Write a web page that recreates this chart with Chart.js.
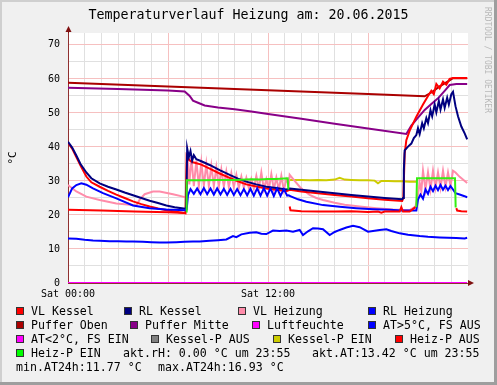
<!DOCTYPE html>
<html>
<head>
<meta charset="utf-8">
<script src="https://cdn.jsdelivr.net/npm/chart.js@4.4.0/dist/chart.umd.min.js"></script>
<style>
body{margin:0;background:#f0f0f0;}
canvas{display:block;}
</style>
</head>
<body>
<canvas id="myChart" width="497" height="385"></canvas>
<script>
// time in hours since Sat 00:00
const hourTicks = [0,1,2,3,4,5,6,7,8,9,10,11,12,13,14,15,16,17,18,19,20,21,22,23,24];
const hourLabels = {0:'Sat 00:00', 12:'Sat 12:00'};
const tempTicks = [0,5,10,15,20,25,30,35,40,45,50,55,60,65,70];

const vlKesselT = [0,0.25,0.5,0.75,1.1,1.4,1.9,2.4,2.9,3.4,3.9,4.4,4.9,5.4,5.9,6.4,7.05,
  7.12,7.3,7.5,8,8.5,9.1,9.7,10.2,10.7,11.3,11.9,12.5,13.1,13.3,
  14,15,16,17,18,19,20.05,
  20.12,20.2,20.3,20.5,20.9,21.3,21.6,21.8,21.95,22.1,22.3,22.5,22.7,22.9,23.1,23.95];
const vlKesselV = [41.3,39.5,37.0,34.5,31.3,29.6,28.3,27.1,26.0,25.0,24.0,23.2,22.5,21.9,21.4,21.0,20.5,
  37.5,36.0,35.5,34.8,33.6,32.2,30.9,29.9,29.0,28.4,27.8,27.4,27.0,27.4,
  26.9,26.4,25.9,25.4,24.9,24.5,24.1,
  25.0,38.0,42.0,44.8,48.9,52.5,55.0,56.5,55.5,58.5,57.2,59.2,58.3,60.0,60.3,60.3];

const rlKesselT = [0,0.25,0.5,0.75,1.1,1.4,1.9,2.4,2.9,3.4,3.9,4.4,4.9,5.4,5.9,6.4,7.05,
  7.1,7.15,7.25,7.35,7.45,7.55,7.7,8.0,8.5,9.1,9.7,10.2,10.7,11.3,11.9,12.5,13.1,13.3,
  14,15,16,17,18,19,20.05,
  20.1,20.15,20.2,20.4,20.6,20.75,20.9,21.0,21.1,21.25,21.35,21.5,21.6,21.75,21.85,22.0,22.1,22.25,22.35,22.5,22.6,22.75,22.85,23.0,23.1,23.25,23.4,23.6,23.8,23.95];
const rlKesselV = [41.5,39.8,37.5,35.0,32.5,30.8,29.3,28.3,27.5,26.6,25.8,25.0,24.2,23.5,22.8,22.3,21.8,
  22.5,39.6,37.0,38.8,36.0,37.6,36.4,35.8,34.7,33.2,31.8,30.7,29.8,29.0,28.3,27.9,27.5,27.8,
  27.4,26.9,26.4,25.9,25.4,25.0,24.6,
  25.0,33.0,39.0,40.1,41.0,42.6,43.5,45.5,43.8,47.0,45.5,48.5,47.0,50.8,49.0,52.5,50.2,53.5,51.0,54.0,51.5,54.5,52.5,55.5,56.2,52.0,49.0,46.0,44.0,42.2];

const vlHeizT = [0,0.5,1.1,1.9,2.9,3.9,4.1,4.3,4.6,5.1,5.5,6.3,6.9,7.08,
  7.12,7.18,7.28,7.4,7.55,7.7,7.85,8.0,8.15,8.3,8.45,8.6,8.75,8.9,9.05,9.2,9.35,9.5,9.65,9.8,9.95,10.1,10.25,10.4,10.55,10.7,10.85,11.0,11.15,11.3,11.45,11.6,11.75,11.9,12.05,12.2,12.35,12.5,12.65,12.8,12.95,13.1,13.25,
  13.3,13.6,13.9,14.2,14.5,14.9,15.3,16.0,16.6,17.5,18.5,19.5,20.5,20.85,
  21.0,21.1,21.2,21.3,21.45,21.6,21.75,21.9,22.05,22.2,22.35,22.5,22.65,22.8,22.95,23.1,23.25,23.5,23.75,23.95];
const vlHeizV = [28.8,26.9,25.4,24.4,23.4,22.9,22.8,24.5,26.1,26.9,26.9,26.1,25.4,25.2,
  25.0,36.5,29.0,37.0,28.5,36.0,28.5,35.5,28.5,35.0,28.5,34.5,28.5,34.0,28.3,33.3,28.3,32.8,28.2,32.3,28.2,31.8,28.0,31.3,28.0,30.9,27.9,30.6,27.8,31.5,27.7,32.5,27.6,30.5,27.5,32.0,27.5,31.0,27.4,31.5,27.3,30.5,29.0,
  31.8,30.0,28.3,27.0,25.9,25.0,24.4,23.6,23.0,22.5,22.0,21.6,21.4,22.5,
  26.0,29.5,27.0,33.0,27.5,32.5,27.5,33.0,28.0,32.5,28.0,33.0,28.2,32.5,28.5,33.0,32.5,31.2,30.2,29.4];

const rlHeizT = [0,0.25,0.5,0.8,1.1,1.5,2.1,2.9,3.9,4.9,5.9,7.05,
  7.12,7.2,7.35,7.55,7.75,7.95,8.15,8.35,8.55,8.75,8.95,9.15,9.35,9.55,9.75,9.95,10.15,10.35,10.55,10.75,10.95,11.15,11.35,11.55,11.75,11.95,12.15,12.35,12.55,12.75,12.95,13.15,13.25,
  13.3,13.8,14.3,15.3,16.3,17.3,18.3,19.3,20.0,20.85,
  20.9,21.0,21.15,21.3,21.45,21.6,21.75,21.9,22.05,22.2,22.35,22.5,22.65,22.8,22.95,23.1,23.25,23.5,23.75,23.95];
const rlHeizV = [25.2,27.8,28.8,29.3,28.9,27.8,26.4,24.9,22.8,22.0,21.6,21.4,
  21.6,25.8,27.6,26.2,27.8,26.1,27.9,26.1,27.8,26.0,27.8,26.0,27.7,25.9,27.7,25.9,27.6,25.8,27.6,25.8,27.7,25.7,27.8,25.7,27.9,25.7,27.8,25.6,27.8,25.6,27.6,25.7,25.8,
  25.6,24.6,23.9,22.9,22.4,22.0,21.7,21.5,21.3,21.3,
  21.3,24.5,26.0,24.8,27.5,26.2,28.3,27.0,28.6,27.3,28.8,27.4,28.6,27.3,28.5,27.5,26.4,26.0,25.6,25.2];

const pufferObenT = [0,6,12,18,21.4,21.8,22.3,22.8,23.1,23.95];
const pufferObenV = [58.9,57.8,56.7,55.6,54.9,56.0,57.8,59.3,60.2,60.2];

const pufferMitteT = [0,3,6,7.0,7.3,7.5,7.8,8.2,9,10,11,12,14,16,18,20.3,20.6,21.0,21.4,21.8,22.2,22.6,22.9,23.3,23.95];
const pufferMitteV = [57.4,57.0,56.6,56.3,55.0,53.6,53.0,52.2,51.6,51.1,50.4,49.7,48.3,46.8,45.4,43.8,46.3,48.6,50.9,52.6,54.3,56.5,58.2,58.5,58.5];

const luftT = [0,23.95];
const luftV = [0,0];

const atT = [0,0.5,1,1.5,1.9,2.5,3,3.5,3.9,4.5,5,5.5,5.9,6.5,7,7.5,7.9,8.5,9,9.5,9.9,10.1,10.4,10.9,11.3,11.6,11.9,12.3,12.7,13.1,13.5,13.9,14.1,14.4,14.7,15,15.3,15.7,16,16.3,16.7,17.1,17.5,18,18.3,18.7,19.1,19.4,19.9,20.4,21.1,21.6,22.3,22.8,23.3,23.8,23.95];
const atV = [13.1,13.0,12.7,12.5,12.4,12.3,12.3,12.2,12.2,12.1,12.0,11.9,11.9,12.0,12.1,12.2,12.2,12.4,12.6,12.8,13.8,13.5,14.3,14.8,14.9,14.5,14.4,15.4,15.3,15.4,15.1,15.6,14.1,15.2,16.1,16.0,15.8,14.1,15.0,15.6,16.3,16.8,16.4,15.1,15.3,15.6,15.8,15.3,14.6,14.2,13.8,13.6,13.4,13.3,13.2,13.1,13.3];

const kesselPEinT = [13.2,14,14.5,15,15.5,16,16.3,16.6,17,17.5,18,18.4,18.6,18.8,19.2,19.6,20,20.5,20.95];
const kesselPEinV = [30.3,30.3,30.2,30.3,30.2,30.4,30.9,30.4,30.3,30.2,30.2,30.1,29.3,30.0,30.0,29.9,29.9,29.8,29.8];

const heizPEinT = [7.08,7.12,8,9,10,11,11.5,12,12.5,13.18,13.22,13.26,20.9,20.94,21.5,22.5,23.22,23.26];
const heizPEinV = [21.0,30.2,30.2,30.3,30.3,30.5,30.4,30.6,30.6,30.8,27.5,null,22.3,30.8,30.8,30.8,30.8,22.2];

const heizPAusT = [0,2,4,6,7.08,10,13.3,13.35,14,15,16,17,18,18.6,18.8,19,19.9,20.0,20.1,20.5,20.85,22,23.3,23.35,23.6,23.95];
const heizPAusV = [21.5,21.3,21.0,20.8,20.6,null,22.5,21.4,21.1,21.0,21.0,21.1,20.9,21.0,20.7,21.0,21.0,22.3,21.0,21.0,22.3,null,22.0,21.3,21.1,21.0];

// legend: text, box colour (null = no box), text x, row
const legendItems = [
  ['VL Kessel','#ff0000',31,0], ['RL Kessel','#000080',139,0], ['VL Heizung','#ff8caa',253,0], ['RL Heizung','#0000ff',383,0],
  ['Puffer Oben','#aa0000',31,1], ['Puffer Mitte','#880088',145,1], ['Luftfeuchte','#ff00ff',267,1], ['AT>5°C, FS AUS','#0000ff',383,1],
  ['AT<2°C, FS EIN','#ff00ff',31,2], ['Kessel-P AUS','#808080',166,2], ['Kessel-P EIN','#cccc00',288,2], ['Heiz-P AUS','#ff0000',410,2],
  ['Heiz-P EIN','#00ff00',31,3], ['akt.rH: 0.00 °C um 23:55',null,123,3], ['akt.AT:13.42 °C um 23:55',null,312,3],
  ['min.AT24h:11.77 °C',null,16,4], ['max.AT24h:16.93 °C',null,158,4]
];
const legendRowY = [311,325,339,353,367];

const mono = '"DejaVu Sans Mono", monospace';

function series(t, v){
  return t.map(function(x, i){ return {x: x, y: v[i]}; });
}

function line(label, t, v, color, order){
  return {
    label: label,
    data: series(t, v),
    borderColor: color,
    backgroundColor: color,
    borderWidth: 2,
    pointRadius: 0,
    tension: 0,
    fill: false,
    spanGaps: false,
    order: order
  };
}

const rrdLook = {
  id: 'rrdLook',
  beforeDraw(chart){
    const ctx = chart.ctx;
    const a = chart.chartArea;
    ctx.save();
    ctx.fillStyle = '#f0f0f0';
    ctx.fillRect(0, 0, 497, 385);
    ctx.fillStyle = '#cfcfcf';
    ctx.fillRect(0, 0, 497, 2);
    ctx.fillRect(0, 0, 2, 385);
    ctx.fillStyle = '#9e9e9e';
    ctx.fillRect(0, 382, 497, 3);
    ctx.fillRect(494, 0, 3, 385);
    ctx.fillStyle = '#ffffff';
    ctx.fillRect(a.left, a.top, a.right - a.left, a.bottom - a.top);
    ctx.restore();
  },
  afterDraw(chart){
    const ctx = chart.ctx;
    const a = chart.chartArea;
    ctx.save();
    // title
    ctx.fillStyle = '#000';
    ctx.font = '13.3px ' + mono;
    ctx.textAlign = 'center';
    ctx.textBaseline = 'middle';
    ctx.fillText('Temperaturverlauf Heizung am: 20.06.2015', 248.5, 16);
    // watermark
    ctx.save();
    ctx.translate(487, 7);
    ctx.rotate(Math.PI / 2);
    ctx.fillStyle = '#b8b8b8';
    ctx.font = '8px ' + mono;
    ctx.textAlign = 'left';
    ctx.fillText('RRDTOOL / TOBI OETIKER', 0, 0);
    ctx.restore();
    // axis arrows
    ctx.fillStyle = '#7f1010';
    ctx.strokeStyle = '#7f1010';
    ctx.lineWidth = 1;
    ctx.beginPath();
    ctx.moveTo(a.left + 0.5, a.top);
    ctx.lineTo(a.left + 0.5, a.top - 4);
    ctx.stroke();
    ctx.beginPath();
    ctx.moveTo(a.left + 0.5, a.top - 7);
    ctx.lineTo(a.left - 2.5, a.top - 1);
    ctx.lineTo(a.left + 3.5, a.top - 1);
    ctx.closePath();
    ctx.fill();
    const y0 = chart.scales.y.getPixelForValue(0);
    ctx.beginPath();
    ctx.moveTo(a.right + 6, y0);
    ctx.lineTo(a.right, y0 - 3);
    ctx.lineTo(a.right, y0 + 3);
    ctx.closePath();
    ctx.fill();
    // legend
    ctx.font = '11.6px ' + mono;
    ctx.textAlign = 'left';
    ctx.textBaseline = 'middle';
    legendItems.forEach(function(it){
      const y = legendRowY[it[3]];
      if (it[1]) {
        const bx = it[2] - 15;
        ctx.fillStyle = it[1];
        ctx.fillRect(bx, y - 4, 8, 8);
        ctx.strokeStyle = '#333333';
        ctx.strokeRect(bx + 0.5, y - 3.5, 7, 7);
      }
      ctx.fillStyle = '#000';
      ctx.fillText(it[0], it[2], y + 0.5);
    });
    ctx.restore();
  }
};

const majorGrid = '#f6c0c0';
const minorGrid = '#e0e0e0';

new Chart(document.getElementById('myChart').getContext('2d'), {
  type: 'line',
  data: {
    datasets: [
      line('Puffer Oben', pufferObenT, pufferObenV, '#aa0000', 11),
      line('Puffer Mitte', pufferMitteT, pufferMitteV, '#880088', 10),
      line('Kessel-P EIN', kesselPEinT, kesselPEinV, '#cccc00', 9),
      line('VL Heizung', vlHeizT, vlHeizV, '#ff8caa', 8),
      line('VL Kessel', vlKesselT, vlKesselV, '#ff0000', 7),
      line('RL Kessel', rlKesselT, rlKesselV, '#000080', 6),
      line('RL Heizung', rlHeizT, rlHeizV, '#0000ff', 5),
      line('Heiz-P AUS', heizPAusT, heizPAusV, '#ff0000', 4),
      line('Heiz-P EIN', heizPEinT, heizPEinV, '#33ee11', 3),
      line('AT>5°C, FS AUS', atT, atV, '#0000ff', 2),
      line('Luftfeuchte', luftT, luftV, '#ff00ff', 1)
    ]
  },
  options: {
    responsive: false,
    animation: false,
    devicePixelRatio: 1,
    layout: { padding: { left: 0, right: 29, top: 33, bottom: 0 } },
    plugins: {
      legend: { display: false },
      title: { display: false },
      tooltip: { enabled: false }
    },
    scales: {
      x: {
        type: 'linear',
        min: 0,
        max: 24,
        afterBuildTicks: function(scale){
          scale.ticks = hourTicks.map(function(h){ return {value: h}; });
        },
        afterFit: function(scale){ scale.height = 102; },
        ticks: {
          autoSkip: false,
          maxRotation: 0,
          padding: 5.5,
          color: '#000',
          font: { family: mono, size: 10 },
          callback: function(v){ return hourLabels[v] || ''; }
        },
        grid: {
          drawTicks: false,
          color: function(c){
            if (!c.tick) return minorGrid;
            if (c.tick.value === 24) return 'rgba(0,0,0,0)';
            return c.tick.value % 6 === 0 ? majorGrid : minorGrid;
          }
        },
        border: { display: true, color: '#903030', width: 1 }
      },
      y: {
        min: 0,
        max: 73.5,
        afterBuildTicks: function(scale){
          scale.ticks = tempTicks.map(function(v){ return {value: v}; });
        },
        afterFit: function(scale){ scale.width = 68; },
        ticks: {
          padding: 8,
          color: '#000',
          font: { family: mono, size: 10 },
          callback: function(v){ return v % 10 === 0 ? String(v) : ''; }
        },
        grid: {
          drawTicks: false,
          color: function(c){
            if (!c.tick) return minorGrid;
            return c.tick.value % 10 === 0 ? majorGrid : minorGrid;
          }
        },
        border: { display: true, color: '#903030', width: 1 },
        title: {
          display: true,
          text: '°C',
          color: '#000',
          font: { family: mono, size: 11 },
          padding: { top: 7, bottom: 0 }
        }
      }
    }
  },
  plugins: [rrdLook]
});
</script>
</body>
</html>
